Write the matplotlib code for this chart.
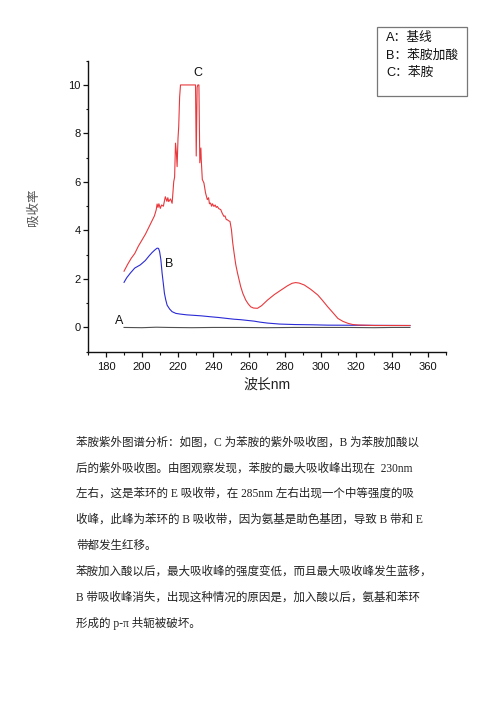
import matplotlib
matplotlib.use("Agg")
import matplotlib.pyplot as plt
from matplotlib.ticker import MultipleLocator
from matplotlib.patches import Rectangle

plt.rcParams['font.family'] = ['Liberation Sans', 'Noto Sans CJK SC']

# ---------------- data ----------------
a_x = [190, 200, 208, 215, 228, 240, 255, 270, 285, 300, 315, 330, 340, 350]
a_y = [0.0, -0.01, 0.01, 0.0, -0.01, 0.0, 0.0, -0.01, 0.0, 0.0, 0.0, -0.01, 0.0, 0.0]

b_x = [190, 191.5, 193.5, 196, 199.1, 201.9, 204, 205.7, 207.3, 208.5, 209.3, 209.9, 210.6,
       211.3, 212.0, 212.6, 213.3, 214.1, 215.5, 216.9, 219, 221.6, 225, 229, 233, 238.5,
       243, 247.8, 251.5, 255.3, 259, 262.8, 266, 270.3, 277, 285.3, 295, 304, 320, 335, 350]
b_y = [1.86, 2.05, 2.24, 2.45, 2.58, 2.76, 2.95, 3.09, 3.2, 3.27, 3.26, 3.13, 2.8,
       2.24, 1.8, 1.41, 1.15, 0.92, 0.76, 0.65, 0.58, 0.55, 0.52, 0.50, 0.48, 0.44,
       0.41, 0.37, 0.34, 0.32, 0.29, 0.26, 0.22, 0.18, 0.14, 0.12, 0.11, 0.095, 0.09, 0.085, 0.08]

c_x = [190, 192, 194, 196, 198, 200, 202, 204, 206, 207, 208, 208.5, 209, 209.5, 210.3,
       211, 212, 213.1, 214, 214.5, 215, 216, 216.9, 217.4, 217.8, 218.3, 218.8, 219.3,
       219.7, 220.2, 220.6, 221.1, 221.6, 230.0, 230.4, 230.9, 231.3, 231.9, 232.4, 233.0,
       233.2, 233.8, 234.7, 235.6, 236.6, 237.3, 237.8, 238.4, 239.0, 239.5, 240.3, 241.0,
       241.6, 242.2, 243.0, 244.1, 245.0, 245.9, 246.5, 247.2, 247.8, 248.5, 249.3, 250.1,
       250.8, 251.6, 252.5, 253.5, 255.3, 256.5, 258.1, 259.5, 260.9, 262.5, 264.7, 267,
       270.3, 274, 277.8, 281.5, 284, 286, 288, 290.9, 294.5, 298.4, 301, 304, 307, 309.7,
       312.5, 315.3, 318, 320.9, 330, 340, 350]
c_y = [2.32, 2.6, 2.85, 3.05, 3.35, 3.6, 3.85, 4.15, 4.45, 4.6, 4.85, 5.09, 4.95, 5.1, 4.91,
       5.05, 5.0, 5.39, 5.2, 5.35, 5.19, 5.3, 5.12, 5.6, 6.01, 6.2, 7.6, 7.2,
       6.63, 7.8, 8.29, 9.5, 10.0, 10.0, 7.07, 9.9, 10.0, 10.0, 6.79, 7.4,
       6.93, 6.1, 5.96, 5.55, 5.27, 5.35, 5.1, 5.13, 5.0, 5.1, 4.99, 5.05,
       4.95, 4.99, 4.9, 4.86, 4.7, 4.58, 4.6, 4.45, 4.44, 4.4, 4.37, 4.03,
       3.5, 3.06, 2.6, 2.24, 1.68, 1.4, 1.13, 0.97, 0.85, 0.8, 0.79, 0.9,
       1.13, 1.35, 1.54, 1.72, 1.82, 1.85, 1.83, 1.75, 1.57, 1.34, 1.12, 0.85, 0.6, 0.37,
       0.25, 0.17, 0.12, 0.10, 0.08, 0.08, 0.08]

curve_labels = ['A', 'B', 'C']
label_pos_x = [187.4, 215.4, 231.1]
label_pos_y = [0.25, 2.62, 10.49]

x_ticks = [180, 200, 220, 240, 260, 280, 300, 320, 340, 360]
y_ticks = [0, 2, 4, 6, 8, 10]

legend_lines = ['A：基线', 'B：苯胺加酸', 'C：苯胺']

body_lines = [
    "苯胺紫外图谱分析：如图，C 为苯胺的紫外吸收图，B 为苯胺加酸以",
    "后的紫外吸收图。由图观察发现，苯胺的最大吸收峰出现在  230nm",
    "左右，这是苯环的 E 吸收带，在 285nm 左右出现一个中等强度的吸",
    "收峰，此峰为苯环的 B 吸收带，因为氨基是助色基团，导致 B 带和 E",
    "带都发生红移。",
    "苯胺加入酸以后，最大吸收峰的强度变低，而且最大吸收峰发生蓝移，",
    "B 带吸收峰消失，出现这种情况的原因是，加入酸以后，氨基和苯环",
    "形成的 p-π 共轭被破坏。",
]
body_y_px = [443, 469, 494, 520, 546, 572, 598, 623]

# ---------------- figure ----------------
W, H = 496, 702
fig = plt.figure(figsize=(W / 100, H / 100), dpi=100)
fig.patch.set_facecolor('white')

def fx(px):
    return px / W

def fy(py):
    return 1 - py / H

ax = fig.add_axes([fx(88.3), fy(351.7), fx(445.7 - 88.3), (351.7 - 60.7) / H])
ax.plot(a_x, a_y, color='#505050', lw=0.8)
ax.plot(b_x, b_y, color='#2a2ad6', lw=0.8)
ax.plot(c_x, c_y, color='#e8383c', lw=0.8)

for lab, lx, ly in zip(curve_labels, label_pos_x, label_pos_y):
    ax.text(lx, ly, lab, fontsize=9, color='#111111', ha='center', va='center')

ax.set_xlim(170, 370)
ax.set_ylim(-1, 11)
ax.set_xticks(x_ticks)
ax.set_yticks(y_ticks)
ax.xaxis.set_minor_locator(MultipleLocator(10))
ax.yaxis.set_minor_locator(MultipleLocator(1))
for s in ['top', 'right']:
    ax.spines[s].set_visible(False)
for s in ['left', 'bottom']:
    ax.spines[s].set_linewidth(1.0)
    ax.spines[s].set_color('#111111')
ax.tick_params(axis='both', which='major', direction='out', length=3.6, width=0.9,
               labelsize=8, colors='#111111')
ax.tick_params(axis='both', which='minor', direction='out', length=1.8, width=0.8,
               colors='#111111')
ax.tick_params(axis='y', which='major', pad=1.8)
ax.tick_params(axis='x', which='major', pad=3.5)
ax.set_facecolor('none')

fig.text(fx(267), fy(385), '波长nm', fontsize=10, color='#222222', ha='center', va='center')
fig.text(fx(33), fy(207), '吸收率', fontsize=9, color='#555555', ha='center', va='center',
         rotation=90, family=['Noto Sans CJK SC'])

# legend box
fig.patches.append(Rectangle((fx(377), fy(96)), fx(467 - 377), (96 - 27) / H,
                             transform=fig.transFigure, fill=False, edgecolor='#777777', lw=0.9))
for i, t in enumerate(legend_lines):
    fig.text(fx(386), fy(38 + i * 17.5), t, fontsize=9.2, color='#111111', ha='left', va='center')

for t, yy in zip(body_lines, body_y_px):
    fig.text(fx(76), fy(yy), t, fontsize=8.3, color='#222222', ha='left', va='center',
             family=['Liberation Serif', 'Noto Sans CJK SC'])

fig.savefig('out.png', dpi=100)
